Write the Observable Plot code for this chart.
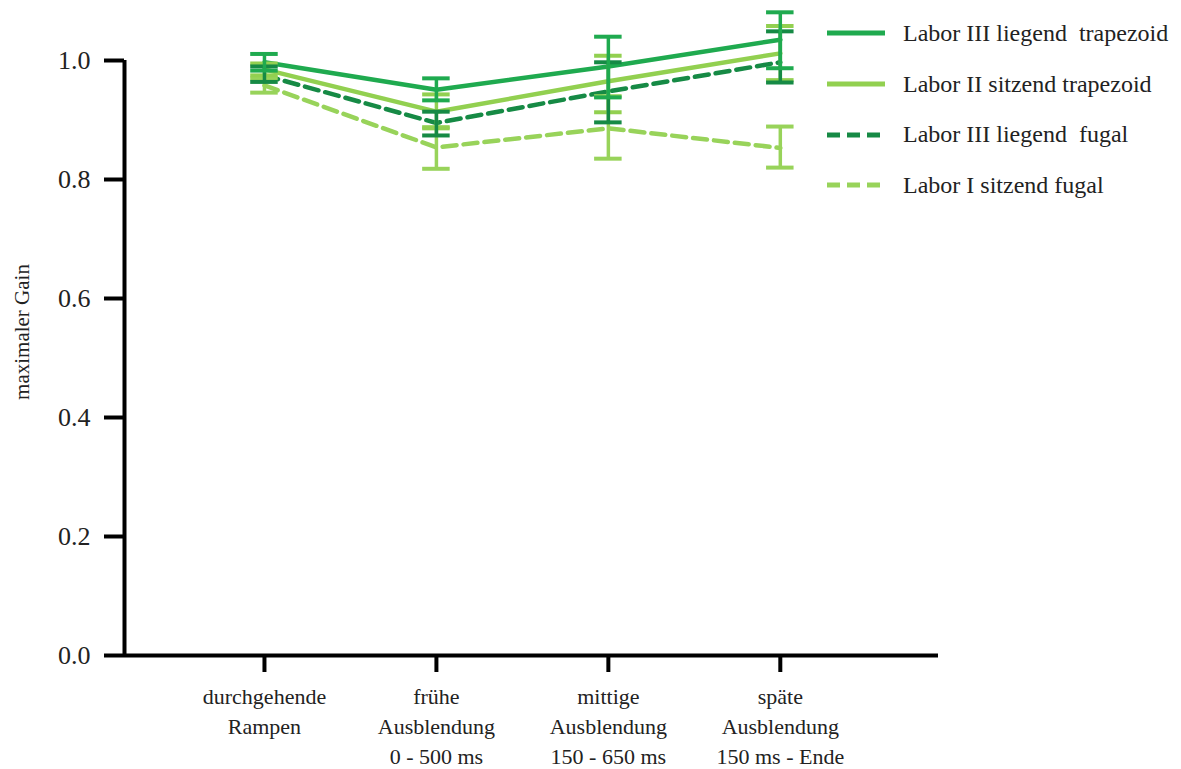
<!DOCTYPE html>
<html>
<head>
<meta charset="utf-8">
<script src="https://cdn.jsdelivr.net/npm/d3@7"></script>
<script src="https://cdn.jsdelivr.net/npm/@observablehq/plot@0.6"></script>
<style>
  body { margin: 0; background: #fff; }
  #wrap { position: relative; width: 1181px; height: 769px; font-family: "Liberation Serif", "Times New Roman", serif; }
  #legend { position: absolute; left: 827px; top: 8px; }
  .lg-row { display: flex; align-items: center; height: 50.7px; font-size: 24px; color: #222; white-space: pre; }
  .lg-row svg { margin-right: 18px; }
</style>
</head>
<body>
<div id="wrap"><div id="legend"></div></div>
<script>
const categories = ["durchgehende\nRampen", "frühe\nAusblendung\n0 - 500 ms", "mittige\nAusblendung\n150 - 650 ms", "späte\nAusblendung\n150 ms - Ende"];
const seriesNames = ["Labor III liegend  trapezoid", "Labor II sitzend trapezoid", "Labor III liegend  fugal", "Labor I sitzend fugal"];
const seriesColors = ["#1faa4f", "#92d050", "#168a45", "#98d35a"];
const seriesDash = [null, null, "14,7", "14,7"];
const yTitle = "maximaler Gain";

const s1Mean = [0.997, 0.951, 0.990, 1.035];
const s1Lo   = [0.983, 0.933, 0.938, 0.987];
const s1Hi   = [1.011, 0.970, 1.040, 1.081];
const s2Mean = [0.985, 0.914, 0.965, 1.012];
const s2Lo   = [0.975, 0.886, 0.913, 0.967];
const s2Hi   = [0.995, 0.943, 1.008, 1.058];
const s3Mean = [0.975, 0.895, 0.948, 0.997];
const s3Lo   = [0.964, 0.874, 0.896, 0.963];
const s3Hi   = [0.990, 0.914, 0.997, 1.049];
const s4Mean = [0.958, 0.854, 0.886, 0.853];
const s4Lo   = [0.946, 0.818, 0.835, 0.820];
const s4Hi   = [0.970, 0.888, 0.940, 0.889];

const yTicks = [0, 0.2, 0.4, 0.6, 0.8, 1.0];

const means = [s1Mean, s2Mean, s3Mean, s4Mean];
const los = [s1Lo, s2Lo, s3Lo, s4Lo];
const his = [s1Hi, s2Hi, s3Hi, s4Hi];

const rows = [];
means.forEach((m, si) => m.forEach((v, ci) => rows.push({
  series: seriesNames[si], si, x: ci + 1, y: v, lo: los[si][ci], hi: his[si][ci]
})));

const capHalf = 0.08;
const xMin = 0.186, xMax = 4.92;

const marks = [];
[3, 1, 2, 0].forEach(si => {
  marks.push(Plot.line(rows.filter(d => d.si === si), {
    x: "x", y: "y", stroke: seriesColors[si], strokeWidth: 4.5,
    strokeDasharray: seriesDash[si], strokeLinejoin: "miter"
  }));
});
[3, 1, 2, 0].forEach(si => {
  const data = rows.filter(d => d.si === si);
  marks.push(Plot.ruleX(data, {x: "x", y1: "lo", y2: "hi", stroke: seriesColors[si], strokeWidth: 3.5}));
  marks.push(Plot.ruleY(data, {y: "hi", x1: d => d.x - capHalf, x2: d => d.x + capHalf, stroke: seriesColors[si], strokeWidth: 4}));
  marks.push(Plot.ruleY(data, {y: "lo", x1: d => d.x - capHalf, x2: d => d.x + capHalf, stroke: seriesColors[si], strokeWidth: 4}));
});

const chart = Plot.plot({
  width: 1181,
  height: 769,
  marginLeft: 124,
  marginRight: 243,
  marginTop: 60,
  marginBottom: 114,
  style: {fontFamily: "Liberation Serif, Times New Roman, serif", fontSize: "21px", color: "#222", background: "transparent", overflow: "visible"},
  x: {domain: [xMin, xMax]},
  y: {domain: [0, 1]},
  marks: [
    Plot.axisY({ticks: yTicks, tickSize: 20, strokeWidth: 4, stroke: "#000", tickPadding: 14,
      tickFormat: d3.format(".1f"), fontSize: 26, label: null}),
    Plot.text([yTitle], {frameAnchor: "left", textAnchor: "middle", rotate: -90, dx: -102, dy: -26, fontSize: 21, fill: "#222"}),
    Plot.axisX({ticks: [1, 2, 3, 4], tickSize: 17, strokeWidth: 4, stroke: "#000", tickPadding: 10,
      tickFormat: d => categories[d - 1], fontSize: 22, lineHeight: 1.37, label: null}),
    Plot.ruleY([0], {stroke: "#000", strokeWidth: 4}),
    Plot.ruleX([xMin], {y1: 0, y2: 1, stroke: "#000", strokeWidth: 4}),
    ...marks
  ]
});
document.getElementById("wrap").prepend(chart);

const legend = d3.select("#legend");
seriesNames.forEach((name, i) => {
  const row = legend.append("div").attr("class", "lg-row");
  const svg = row.append("svg").attr("width", 58).attr("height", 8);
  svg.append("line").attr("x1", 0).attr("x2", 58).attr("y1", 4).attr("y2", 4)
    .attr("stroke", seriesColors[i]).attr("stroke-width", 5)
    .attr("stroke-dasharray", seriesDash[i] ? "13,7" : null);
  row.append("span").text(name);
});
</script>
</body>
</html>
